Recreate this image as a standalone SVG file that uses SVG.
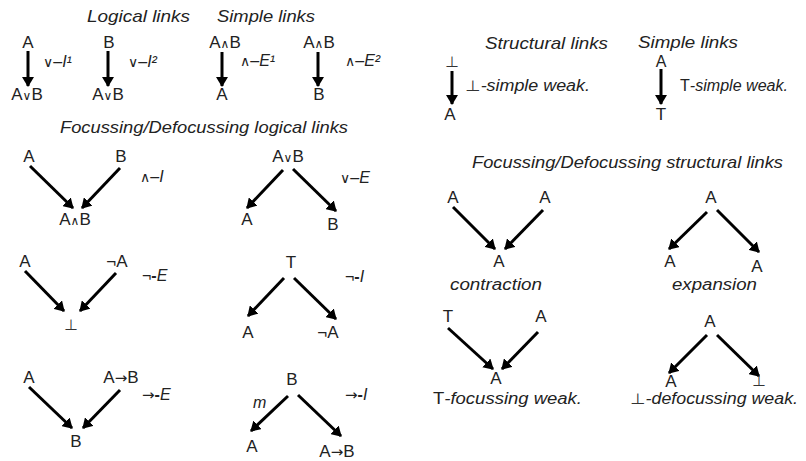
<svg xmlns="http://www.w3.org/2000/svg" width="806" height="461" viewBox="0 0 806 461">
<defs>
<style>
text { font-family: "Liberation Sans", Arial, sans-serif; fill: #222; }
.n { font-size: 17px; text-anchor: middle; }
.h { font-size: 17px; font-style: italic; }
.l { font-size: 16px; }
.i { font-style: italic; }
.s { font-family: "DejaVu Sans", sans-serif; font-size: 12px; font-style: normal; font-weight: normal; }
.sl { font-family: "DejaVu Sans", sans-serif; font-size: 14px; font-style: normal; font-weight: normal; }
.ar { font-family: "DejaVu Sans", sans-serif; font-size: 15px; font-style: normal; font-weight: normal; }
.b { font-family: "Noto Sans CJK JP", "DejaVu Sans", sans-serif; font-size: 14px; font-style: normal; fill: #333; }
.d { font-weight: bold; }
#connectors line { stroke: #000; stroke-width: 3; marker-end: url(#ah); }
</style>
<marker id="ah" markerUnits="userSpaceOnUse" viewBox="0 0 10 12" markerWidth="10" markerHeight="12" refX="9" refY="6" orient="auto">
<path d="M0,0 L10,6 L0,12 z" fill="#000"/>
</marker>
</defs>
<rect width="806" height="461" fill="#fff"/>

<g id="titles">
<text class="h" x="87" y="22" textLength="103" lengthAdjust="spacingAndGlyphs">Logical links</text>
<text class="h" x="217" y="22" textLength="98" lengthAdjust="spacingAndGlyphs">Simple links</text>
<text class="h" x="60" y="133" textLength="288" lengthAdjust="spacingAndGlyphs">Focussing/Defocussing logical links</text>
<text class="h" x="485" y="49" textLength="123" lengthAdjust="spacingAndGlyphs">Structural links</text>
<text class="h" x="638" y="48" textLength="100" lengthAdjust="spacingAndGlyphs">Simple links</text>
<text class="h" x="472" y="168" textLength="311" lengthAdjust="spacingAndGlyphs">Focussing/Defocussing structural links</text>
</g>

<g id="connectors">
<line x1="28" y1="51" x2="28" y2="86"/>
<line x1="108" y1="51" x2="108" y2="86"/>
<line x1="222" y1="52" x2="222" y2="86"/>
<line x1="318" y1="52" x2="318" y2="86"/>
<line x1="30" y1="166" x2="73" y2="208"/>
<line x1="120" y1="168" x2="82" y2="208"/>
<line x1="283" y1="170" x2="247" y2="208"/>
<line x1="293" y1="169" x2="336" y2="211"/>
<line x1="25" y1="271" x2="64" y2="311"/>
<line x1="116" y1="273" x2="80" y2="311"/>
<line x1="284" y1="278" x2="248" y2="316"/>
<line x1="294" y1="278" x2="336" y2="319"/>
<line x1="29" y1="387" x2="72" y2="428"/>
<line x1="120" y1="390" x2="83" y2="428"/>
<line x1="288" y1="396" x2="251" y2="431"/>
<line x1="298" y1="395" x2="341" y2="436"/>
<line x1="452" y1="71" x2="452" y2="104"/>
<line x1="661" y1="69" x2="661" y2="104"/>
<line x1="453" y1="207" x2="495" y2="249"/>
<line x1="543" y1="210" x2="505" y2="249"/>
<line x1="707" y1="212" x2="669" y2="249"/>
<line x1="717" y1="210" x2="759" y2="252"/>
<line x1="448" y1="328" x2="493" y2="369"/>
<line x1="538" y1="332" x2="502" y2="369"/>
<line x1="707" y1="335" x2="669" y2="373"/>
<line x1="717" y1="335" x2="759" y2="376"/>
</g>

<g id="or-intro-1">
<text class="n" x="28" y="48">A</text>
<text class="n" x="27" y="100">A<tspan class="s">∨</tspan>B</text>
<text class="l" x="43" y="67"><tspan class="sl">∨</tspan>–<tspan class="i">I¹</tspan></text>
</g>
<g id="or-intro-2">
<text class="n" x="109" y="48">B</text>
<text class="n" x="108" y="100">A<tspan class="s">∨</tspan>B</text>
<text class="l" x="128" y="67"><tspan class="sl">∨</tspan>–<tspan class="i">I²</tspan></text>
</g>
<g id="and-elim-1">
<text class="n" x="225" y="48">A<tspan class="s">∧</tspan>B</text>
<text class="n" x="222" y="100">A</text>
<text class="l" x="240" y="66"><tspan class="sl">∧</tspan>–<tspan class="i">E¹</tspan></text>
</g>
<g id="and-elim-2">
<text class="n" x="319" y="48">A<tspan class="s">∧</tspan>B</text>
<text class="n" x="319" y="100">B</text>
<text class="l" x="345" y="66"><tspan class="sl">∧</tspan>–<tspan class="i">E²</tspan></text>
</g>

<g id="and-intro">
<text class="n" x="29" y="162">A</text>
<text class="n" x="121" y="162">B</text>
<text class="n" x="75" y="225">A<tspan class="s">∧</tspan>B</text>
<text class="l" x="140" y="182"><tspan class="sl">∧</tspan>–<tspan class="i">I</tspan></text>
</g>
<g id="or-elim">
<text class="n" x="288" y="162">A<tspan class="s">∨</tspan>B</text>
<text class="n" x="247" y="225">A</text>
<text class="n" x="333" y="230">B</text>
<text class="l" x="340" y="183"><tspan class="sl">∨</tspan>–<tspan class="i">E</tspan></text>
</g>
<g id="neg-elim">
<text class="n" x="25" y="267">A</text>
<text class="n" x="117" y="267">¬A</text>
<text class="n" x="71" y="330"><tspan class="b">⊥</tspan></text>
<text class="l" x="142" y="281">¬<tspan class="d">-</tspan><tspan class="i">E</tspan></text>
</g>
<g id="neg-intro">
<text class="n" x="291" y="268">T</text>
<text class="n" x="248" y="338">A</text>
<text class="n" x="328" y="338">¬A</text>
<text class="l" x="345" y="282">¬<tspan class="d">-</tspan><tspan class="i">I</tspan></text>
</g>
<g id="imp-elim">
<text class="n" x="29" y="383">A</text>
<text class="n" x="121" y="383">A<tspan class="ar">→</tspan>B</text>
<text class="n" x="76" y="447">B</text>
<text class="l" x="142" y="400"><tspan class="ar">→</tspan><tspan class="d">-</tspan><tspan class="i">E</tspan></text>
</g>
<g id="imp-intro">
<text class="n" x="292" y="385">B</text>
<text class="n" x="252" y="452">A</text>
<text class="n" x="337" y="457">A<tspan class="ar">→</tspan>B</text>
<text class="l i" x="253" y="408">m</text>
<text class="l" x="345" y="400"><tspan class="ar">→</tspan><tspan class="d">-</tspan><tspan class="i">I</tspan></text>
</g>

<g id="bot-simple">
<text class="n" x="452" y="67"><tspan class="b">⊥</tspan></text>
<text class="n" x="450" y="120">A</text>
<text class="l" x="465" y="91" textLength="125" lengthAdjust="spacingAndGlyphs"><tspan class="b">⊥</tspan><tspan class="i">-simple weak.</tspan></text>
</g>
<g id="top-simple">
<text class="n" x="661" y="67" style="font-size:16px">A</text>
<text class="n" x="661" y="120">T</text>
<text class="l" x="680" y="91" textLength="108" lengthAdjust="spacingAndGlyphs">T<tspan class="i">-simple weak.</tspan></text>
</g>
<g id="contraction">
<text class="n" x="453" y="203">A</text>
<text class="n" x="545" y="203">A</text>
<text class="n" x="499" y="267">A</text>
<text class="l i" x="450" y="290" textLength="92" lengthAdjust="spacingAndGlyphs">contraction</text>
</g>
<g id="expansion">
<text class="n" x="711" y="203">A</text>
<text class="n" x="670" y="267">A</text>
<text class="n" x="757" y="272">A</text>
<text class="l i" x="672" y="290" textLength="85" lengthAdjust="spacingAndGlyphs">expansion</text>
</g>
<g id="top-focussing">
<text class="n" x="448" y="322">T</text>
<text class="n" x="541" y="322">A</text>
<text class="n" x="496" y="384">A</text>
<text class="l" x="433" y="404" textLength="149" lengthAdjust="spacingAndGlyphs">T<tspan class="i">-focussing weak.</tspan></text>
</g>
<g id="bot-defocussing">
<text class="n" x="710" y="327">A</text>
<text class="n" x="671" y="387">A</text>
<text class="n" x="759" y="386"><tspan class="b">⊥</tspan></text>
<text class="l" x="630" y="404" textLength="168" lengthAdjust="spacingAndGlyphs"><tspan class="b">⊥</tspan><tspan class="i">-defocussing weak.</tspan></text>
</g>
</svg>
